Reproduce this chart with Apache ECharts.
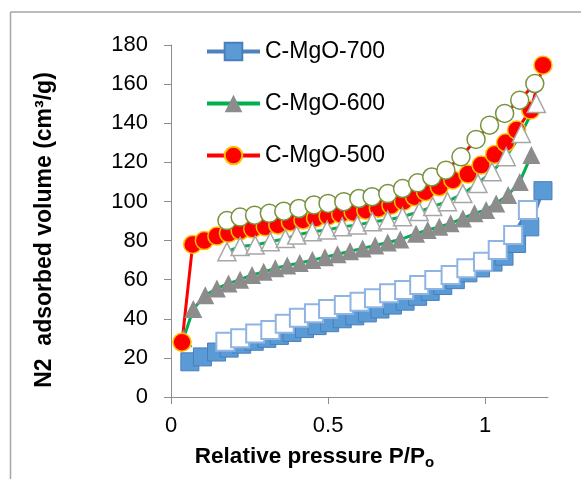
<!DOCTYPE html>
<html><head><meta charset="utf-8">
<script src="https://cdn.jsdelivr.net/npm/echarts@6/dist/echarts.min.js"></script>
<style>html,body{margin:0;padding:0;background:#fff}#c{width:581px;height:479px}</style>
</head><body><div id="c"></div>
<script>
const seriesNames = ['C-MgO-700', 'C-MgO-600', 'C-MgO-500'];
const xTickValues = [0, 0.5, 1];

// C-MgO-700
const ads700X = [0.06,0.10,0.145,0.185,0.225,0.265,0.305,0.345,0.385,0.425,0.465,0.505,0.545,0.585,0.625,0.665,0.705,0.745,0.785,0.825,0.865,0.905,0.945,0.985,1.025,1.06,1.10,1.142,1.184];
const ads700Y = [18,20.5,23,25,27,28.5,30,31.5,33,35,36.5,38,40,41.5,43,45,47,49,51.5,54,57,60,63.5,66,69,72,78.5,87,105.5];
const des700X = [0.173,0.22,0.268,0.316,0.362,0.407,0.455,0.50,0.55,0.60,0.646,0.694,0.742,0.79,0.838,0.89,0.94,0.993,1.04,1.089,1.136];
const des700Y = [28.3,30,32.5,34.3,37.5,40.5,42.8,45,47,48.7,50.5,53,54.7,57.3,59.8,62.4,65.8,69.2,75.2,82.8,95.6];

// C-MgO-600
const ads600X = [0.04,0.071,0.109,0.146,0.183,0.22,0.258,0.295,0.332,0.37,0.41,0.45,0.49,0.53,0.57,0.61,0.65,0.69,0.73,0.78,0.817,0.854,0.89,0.929,0.966,1.003,1.035,1.073,1.11,1.147];
const ads600Y = [30,45,52,55.5,58,60,62.4,64,65.8,67.3,68.5,70,71.5,73,74.5,76,77.5,79,80.5,83.5,85.4,87,88.8,91.3,93.9,95.6,99,103.3,110,123.7];
const des600X = [0.178,0.22,0.268,0.316,0.364,0.40,0.45,0.497,0.545,0.593,0.641,0.69,0.737,0.79,0.833,0.88,0.929,0.977,1.022,1.067,1.115,1.163];
const des600Y = [74.3,77,77.7,79.4,81,82.8,84.5,85.4,87,87.9,89.6,90.5,92.2,94.8,97.4,99.9,104,109.2,115.2,122.9,134.8,150.1];

// C-MgO-500
const ads500X = [0.035,0.069,0.106,0.146,0.183,0.22,0.26,0.30,0.34,0.38,0.42,0.46,0.50,0.54,0.58,0.62,0.66,0.70,0.74,0.775,0.81,0.854,0.897,0.945,0.987,1.03,1.065,1.10,1.145,1.184];
const ads500Y = [28,78,80,82.3,83.7,85,86,87,88,89.5,90.5,91.5,92.5,93.5,94.5,95.5,96.5,98,100,102.4,105,107.5,111,114,118.6,124,130,136.5,146.7,169.7];
const des500X = [0.178,0.22,0.266,0.313,0.359,0.407,0.455,0.50,0.55,0.598,0.64,0.69,0.737,0.785,0.83,0.875,0.923,0.971,1.014,1.062,1.11,1.158];
const des500Y = [90.2,92,93,93.9,95,96.4,98.2,99,99.9,101.5,102.4,104,106.6,109.5,112.5,116,122.8,131.7,139,145,151.8,160.3];

const zip = (xs, ys) => xs.map((x, i) => [x, ys[i]]);
const FONT = 'Liberation Sans, Arial, sans-serif';
const axisGray = '#8c8c8c';

function mk(name, data, symbol, size, line, fill, border, bw) {
  return {
    name: name, type: 'line', data: data, symbol: symbol, symbolSize: size,
    showSymbol: true, animation: false,
    lineStyle: {color: line, width: 3},
    itemStyle: {color: fill, borderColor: border, borderWidth: bw, opacity: 1},
    emphasis: {disabled: true}
  };
}

const chart = echarts.init(document.getElementById('c'), null, {renderer: 'canvas'});
chart.setOption({
  animation: false,
  backgroundColor: '#ffffff',
  grid: {left: 171, right: 33, top: 45, bottom: 82, containLabel: false},
  xAxis: {
    type: 'value', min: 0, max: 1.2,
    axisLine: {lineStyle: {color: axisGray, width: 1}},
    axisTick: {show: true, length: 7, lineStyle: {color: axisGray}, customValues: xTickValues},
    axisLabel: {customValues: xTickValues, fontSize: 22, fontFamily: FONT, color: '#000', margin: 18,
      formatter: v => String(v)},
    splitLine: {show: false},
    name: '{b|Relative pressure P/P}{s|o}',
    nameLocation: 'middle', nameGap: 46,
    nameTextStyle: {
      padding: [0, 90, 0, 0],
      rich: {
        b: {fontSize: 22.5, fontWeight: 'bold', fontFamily: FONT, color: '#000'},
        s: {fontSize: 15, fontWeight: 'bold', fontFamily: FONT, color: '#000', padding: [12, 0, 0, 0]}
      }
    }
  },
  yAxis: {
    type: 'value', min: 0, max: 180, interval: 20,
    axisLine: {show: true, lineStyle: {color: axisGray, width: 1}},
    axisTick: {show: true, length: 7, lineStyle: {color: axisGray}},
    axisLabel: {fontSize: 22, fontFamily: FONT, color: '#000', margin: 23},
    splitLine: {show: false},
    name: 'N2  adsorbed volume (cm³/g)',
    nameLocation: 'middle', nameGap: 115, nameRotate: 90,
    nameTextStyle: {fontSize: 23, fontWeight: 'bold', fontFamily: FONT, color: '#000', padding: [0, 18, 0, 0]}
  },
  legend: {
    data: seriesNames, orient: 'vertical', left: 200, top: 35,
    itemWidth: 53, itemHeight: 22, itemGap: 29,
    lineStyle: {width: 4},
    textStyle: {fontSize: 23, fontFamily: FONT, color: '#000'},
    selectedMode: false
  },
  graphic: [
    {type: 'line', shape: {x1: 10.5, y1: 12, x2: 581, y2: 12}, style: {stroke: '#a6a6a6', lineWidth: 1.5}, silent: true},
    {type: 'line', shape: {x1: 10.5, y1: 12, x2: 10.5, y2: 479}, style: {stroke: '#a6a6a6', lineWidth: 1.5}, silent: true}
  ],
  series: [
    mk('C-MgO-700', zip(ads700X, ads700Y), 'rect', 18, '#4f81bd', '#5b9bd5', '#4a7ebb', 1),
    mk('C-MgO-600', zip(ads600X, ads600Y), 'triangle', 18, '#00b050', '#8c8c8c', '#8c8c8c', 0),
    mk('C-MgO-500', zip(ads500X, ads500Y), 'circle', 18, '#ff0000', '#ff0000', '#ffc000', 1.5),
    mk('C-MgO-700 desorption', zip(des700X, des700Y), 'rect', 18, '#4f81bd', '#ffffff', '#8eb4e3', 2),
    mk('C-MgO-600 desorption', zip(des600X, des600Y), 'triangle', 18, '#00b050', '#ffffff', '#a6a6a6', 1.5),
    mk('C-MgO-500 desorption', zip(des500X, des500Y), 'circle', 18, '#ff0000', '#ffffff', '#77933c', 1.5)
  ]
});
</script></body></html>
